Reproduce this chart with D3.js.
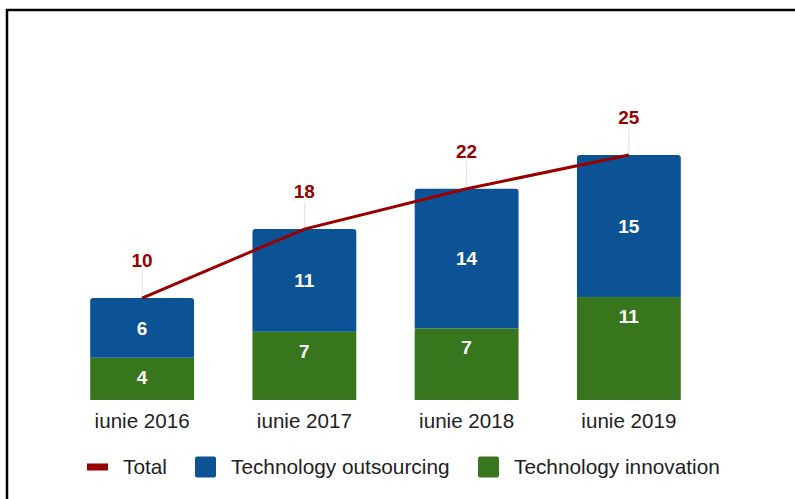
<!DOCTYPE html>
<html>
<head>
<meta charset="utf-8">
<script src="https://cdn.jsdelivr.net/npm/d3@7"></script>
<style>
  body { margin: 0; background: #fff; }
  svg { display: block; font-family: Arial, "Liberation Sans", sans-serif; }
</style>
</head>
<body>
<div class="view"></div>
<script>
var width = 795;
var height = 499;

// values (labels are shown rounded)
var categories = ["iunie 2016", "iunie 2017", "iunie 2018", "iunie 2019"];
var innovation = [4.34, 7.01, 7.36, 10.57];
var outsourcing = [6.13, 10.54, 14.33, 14.58];
var seriesNames = ["Total", "Technology outsourcing", "Technology innovation"];

var colors = {
    total: "#990000",
    outsourcing: "#0b5394",
    innovation: "#38761d"
};

var totals = categories.map(function (d, i) {
    return innovation[i] + outsourcing[i];
});

var svg = d3.select(".view")
    .append("svg")
    .attr("width", width)
    .attr("height", height);

// frame (right and bottom edges fall outside the picture)
svg.append("rect")
    .attr("x", 7)
    .attr("y", 10)
    .attr("width", 820)
    .attr("height", 520)
    .attr("fill", "none")
    .attr("stroke", "#000")
    .attr("stroke-width", 2.5);

var x = d3.scaleBand()
    .domain(categories)
    .range([61, 710])
    .paddingInner(0.36)
    .paddingOuter(0.18);

var y = d3.scaleLinear()
    .domain([0, 30])
    .range([400, 400 - 30 * 9.74]);

var fmt = d3.format(".0f");

// bars
var bars = svg.append("g");

bars.selectAll("rect.innov")
    .data(categories)
    .enter().append("rect")
    .attr("class", "innov")
    .attr("x", function (d) { return x(d); })
    .attr("width", x.bandwidth())
    .attr("y", function (d, i) { return y(innovation[i]); })
    .attr("height", function (d, i) { return y(0) - y(innovation[i]); })
    .attr("fill", colors.innovation);

// outsourcing segment with rounded top corners
bars.selectAll("path.outs")
    .data(categories)
    .enter().append("path")
    .attr("class", "outs")
    .attr("fill", colors.outsourcing)
    .attr("d", function (d, i) {
        var x0 = x(d), x1 = x(d) + x.bandwidth();
        var yb = y(innovation[i]), yt = y(totals[i]);
        var r = 3;
        return "M" + x0 + "," + yb +
            "V" + (yt + r) +
            "Q" + x0 + "," + yt + " " + (x0 + r) + "," + yt +
            "H" + (x1 - r) +
            "Q" + x1 + "," + yt + " " + x1 + "," + (yt + r) +
            "V" + yb + "Z";
    });

// value labels inside bars
var labels = svg.append("g")
    .attr("font-weight", "bold")
    .attr("font-size", 19)
    .attr("fill", "#fff")
    .attr("text-anchor", "middle");

// green labels sit near the top of their segment
labels.selectAll("text.innov")
    .data(categories)
    .enter().append("text")
    .attr("x", function (d) { return x(d) + x.bandwidth() / 2; })
    .attr("y", function (d, i) {
        return Math.min((y(0) + y(innovation[i])) / 2, y(innovation[i]) + 19);
    })
    .attr("dy", "0.36em")
    .text(function (d, i) { return fmt(innovation[i]); });

labels.selectAll("text.outs")
    .data(categories)
    .enter().append("text")
    .attr("x", function (d) { return x(d) + x.bandwidth() / 2; })
    .attr("y", function (d, i) { return (y(innovation[i]) + y(totals[i])) / 2; })
    .attr("dy", "0.36em")
    .text(function (d, i) { return fmt(outsourcing[i]); });

// total line
var cx = function (d) { return x(d) + x.bandwidth() / 2; };

svg.append("g")
    .selectAll("line")
    .data(categories)
    .enter().append("line")
    .attr("x1", cx)
    .attr("x2", cx)
    .attr("y1", function (d, i) { return y(totals[i]); })
    .attr("y2", function (d, i) { return y(totals[i]) - 27; })
    .attr("stroke", "#e0e0e0")
    .attr("stroke-width", 1);

var line = d3.line()
    .x(function (d) { return cx(d); })
    .y(function (d, i) { return y(totals[i]); });

svg.append("path")
    .datum(categories)
    .attr("fill", "none")
    .attr("stroke", colors.total)
    .attr("stroke-width", 3)
    .attr("d", line);

svg.append("g")
    .attr("font-weight", "bold")
    .attr("font-size", 19)
    .attr("fill", colors.total)
    .attr("text-anchor", "middle")
    .selectAll("text")
    .data(categories)
    .enter().append("text")
    .attr("x", cx)
    .attr("y", function (d, i) { return y(totals[i]) - 31; })
    .text(function (d, i) { return fmt(totals[i]); });

// x axis
var xAxis = svg.append("g")
    .attr("transform", "translate(0,400)")
    .call(d3.axisBottom(x).tickSize(0).tickPadding(13));

xAxis.select(".domain").remove();
xAxis.selectAll("text")
    .attr("font-size", 20.6)
    .attr("font-family", "Arial, 'Liberation Sans', sans-serif")
    .attr("fill", "#222");

// legend
var legend = svg.append("g")
    .attr("transform", "translate(0,467)");

var legendX = [87, 195, 478];
var legendSw = [colors.total, colors.outsourcing, colors.innovation];

var items = legend.selectAll("g")
    .data(seriesNames)
    .enter().append("g")
    .attr("transform", function (d, i) { return "translate(" + legendX[i] + ",0)"; });

items.append("rect")
    .attr("x", 0)
    .attr("y", function (d, i) { return i == 0 ? -3.5 : -10.5; })
    .attr("width", 21)
    .attr("height", function (d, i) { return i == 0 ? 7 : 21; })
    .attr("rx", function (d, i) { return i == 0 ? 0 : 2; })
    .attr("fill", function (d, i) { return legendSw[i]; });

items.append("text")
    .attr("x", 36)
    .attr("dy", "0.35em")
    .attr("font-size", 20.8)
    .attr("fill", "#222")
    .text(function (d) { return d; });
</script>
</body>
</html>
